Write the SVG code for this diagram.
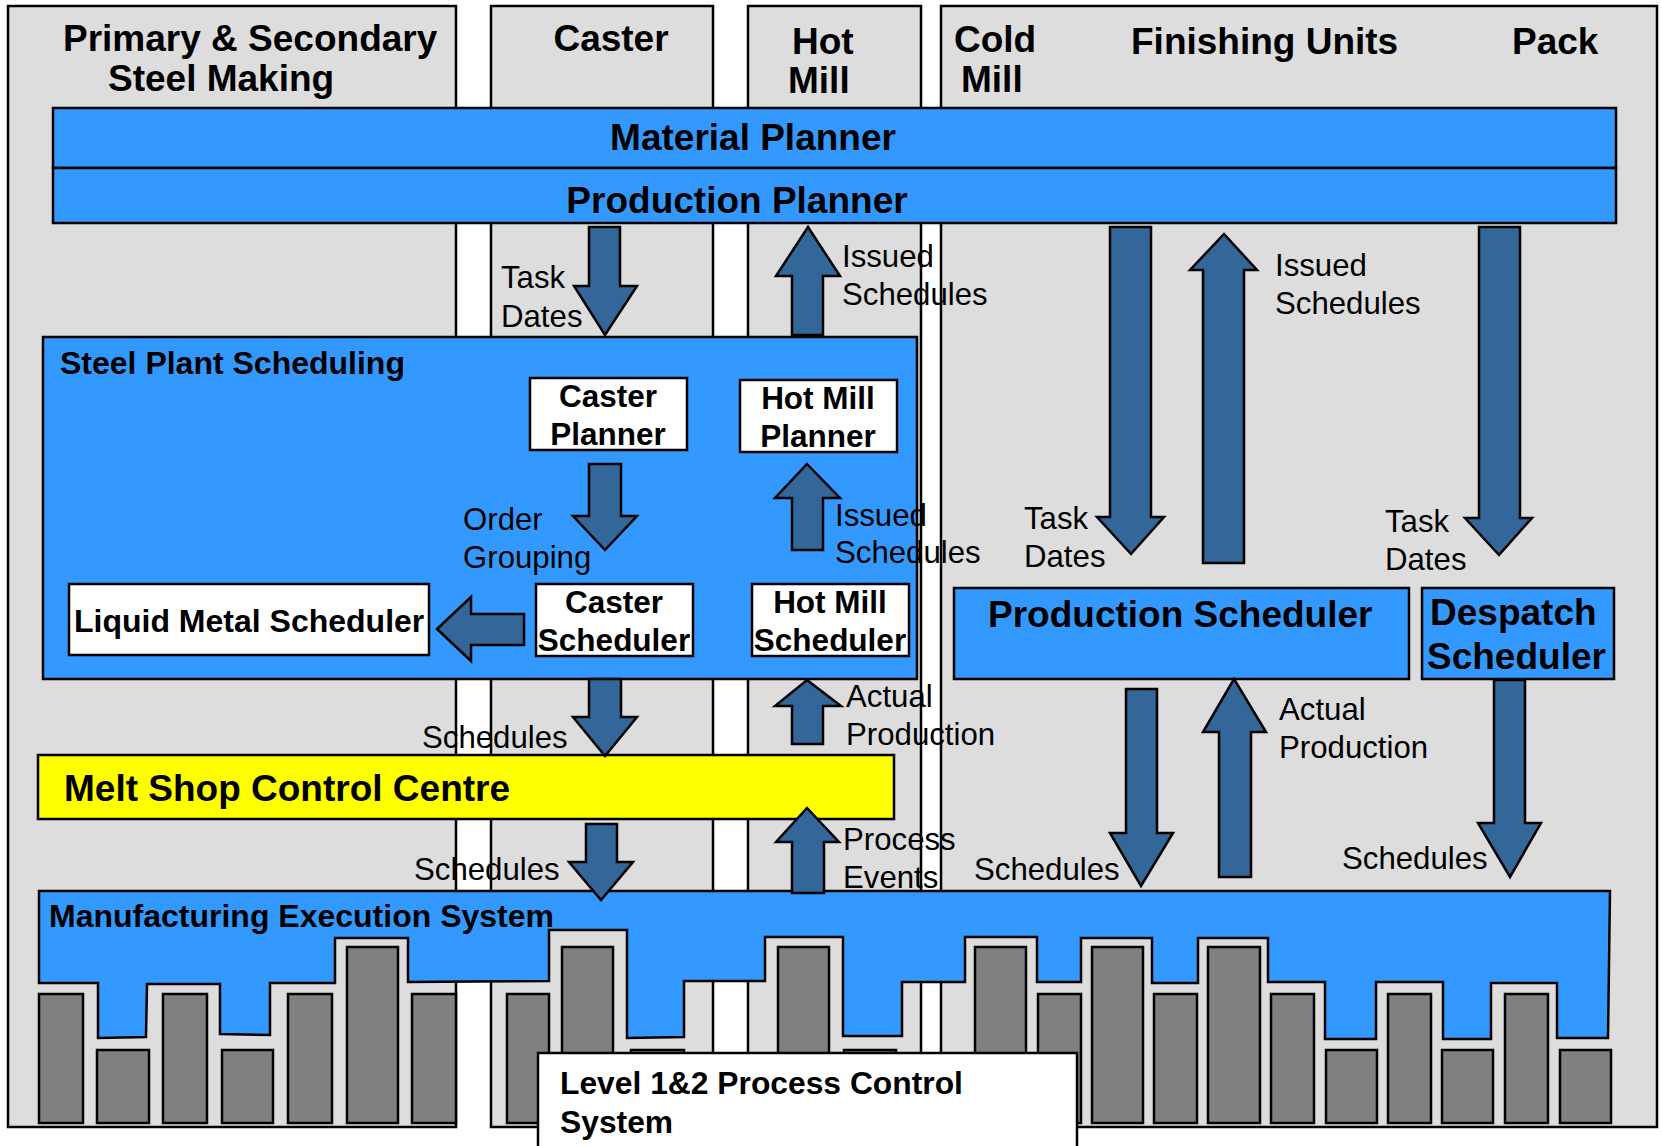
<svg xmlns="http://www.w3.org/2000/svg" width="1662" height="1146" viewBox="0 0 1662 1146">
<style>
.col{fill:#DDDDDD;stroke:#000;stroke-width:2.5}
.blue{fill:#3399FF;stroke:#000;stroke-width:2.5}
.white{fill:#FFFFFF;stroke:#000;stroke-width:2.5}
.yellow{fill:#FFFF00;stroke:#000;stroke-width:2.5}
.bar{fill:#808080;stroke:#000;stroke-width:2.5}
.arr{fill:#336699;stroke:#000;stroke-width:2.5;stroke-linejoin:miter}
.h{font-family:"Liberation Sans",Arial,sans-serif;font-weight:bold;font-size:37px;fill:#000}
.b{font-family:"Liberation Sans",Arial,sans-serif;font-weight:bold;font-size:31.5px;fill:#000}
.l{font-family:"Liberation Sans",Arial,sans-serif;font-size:31.2px;fill:#000}
.m{text-anchor:middle}
</style>
<rect width="1662" height="1146" fill="#FFFFFF"/>
<g id="columns">
<g id="col-primary"><rect class="col" x="8" y="6" width="448" height="1121"/>
<text class="h" x="63" y="51">Primary &amp; Secondary</text>
<text class="h" x="108" y="91">Steel Making</text></g>
<g id="col-caster"><rect class="col" x="491" y="6" width="222" height="1121"/>
<text class="h m" x="611" y="51">Caster</text></g>
<g id="col-hotmill"><rect class="col" x="748" y="6" width="173" height="1121"/>
<text class="h" x="792" y="54">Hot</text>
<text class="h" x="788" y="93">Mill</text></g>
<g id="col-finishing"><rect class="col" x="941" y="6" width="716" height="1121"/>
<text class="h" x="954" y="52">Cold</text>
<text class="h" x="961" y="92">Mill</text>
<text class="h" x="1131" y="54">Finishing Units</text>
<text class="h" x="1512" y="54">Pack</text></g>
</g>
<g id="material-planner"><rect class="blue" x="53" y="108" width="1563" height="60"/>
<text class="h m" x="753" y="150">Material Planner</text></g>
<g id="production-planner"><rect class="blue" x="53" y="168" width="1563" height="55"/>
<text class="h m" x="737" y="213">Production Planner</text></g>
<g id="steel-plant-scheduling"><rect class="blue" x="43" y="337" width="874" height="342"/>
<text class="b" x="60" y="374" style="font-size:32px">Steel Plant Scheduling</text></g>
<g id="caster-planner"><rect class="white" x="530" y="378" width="157" height="72"/>
<text class="b m" x="608" y="407">Caster</text><text class="b m" x="608" y="445">Planner</text></g>
<g id="hotmill-planner"><rect class="white" x="740" y="380" width="157" height="72"/>
<text class="b m" x="818" y="409">Hot Mill</text><text class="b m" x="818" y="447">Planner</text></g>
<g id="caster-scheduler"><rect class="white" x="536" y="584" width="157" height="72"/>
<text class="b m" x="614" y="613">Caster</text><text class="b m" x="614" y="651">Scheduler</text></g>
<g id="hotmill-scheduler"><rect class="white" x="752" y="584" width="157" height="72"/>
<text class="b m" x="830" y="613">Hot Mill</text><text class="b m" x="830" y="651">Scheduler</text></g>
<g id="liquid-metal-scheduler"><rect class="white" x="69" y="584" width="360" height="71"/>
<text class="b" x="74" y="632" style="font-size:32px">Liquid Metal Scheduler</text></g>
<g id="melt-shop"><rect class="yellow" x="38" y="755" width="856" height="64"/>
<text class="h" x="64" y="801">Melt Shop Control Centre</text></g>
<g id="production-scheduler"><rect class="blue" x="954" y="588" width="455" height="91"/>
<text class="h" x="988" y="627">Production Scheduler</text></g>
<g id="despatch-scheduler"><rect class="blue" x="1422" y="588" width="192" height="91"/>
<text class="h" x="1430" y="625">Despatch</text><text class="h" x="1427" y="669">Scheduler</text></g>
<g id="mes">
<polygon class="blue" points="39,891 1610,891 1608,1038 1557,1038 1557,983 1491,983 1491,1039 1443,1039 1443,982 1376,982 1376,1039 1325,1039 1325,982 1268,982 1268,938 1198,938 1198,983 1152,983 1152,938 1081,938 1081,982 1037,982 1037,937 965,937 965,982 902,982 902,1036 843,1036 843,937 765,937 765,981 684,981 684,1037 627,1038 627,930 549,930 549,981 408,982 408,938 335,938 335,983 270,983 270,1035 220,1034 220,984 147,984 146,1037 98,1038 98,983 39,983"/>
<text class="b" x="49" y="927" style="font-size:32px">Manufacturing Execution System</text>
</g>
<g id="level12-bars">
<rect class="bar" x="39" y="994" width="44" height="129"/>
<rect class="bar" x="97" y="1050" width="52" height="73"/>
<rect class="bar" x="163" y="994" width="44" height="129"/>
<rect class="bar" x="222" y="1050" width="51" height="73"/>
<rect class="bar" x="288" y="994" width="44" height="129"/>
<rect class="bar" x="347" y="947" width="51" height="176"/>
<rect class="bar" x="412" y="994" width="44" height="129"/>
<rect class="bar" x="507" y="994" width="42" height="129"/>
<rect class="bar" x="562" y="947" width="51" height="176"/>
<rect class="bar" x="631" y="1050" width="53" height="73"/>
<rect class="bar" x="778" y="947" width="51" height="176"/>
<rect class="bar" x="844" y="1050" width="52" height="73"/>
<rect class="bar" x="975" y="947" width="51" height="176"/>
<rect class="bar" x="1038" y="994" width="43" height="129"/>
<rect class="bar" x="1092" y="947" width="51" height="176"/>
<rect class="bar" x="1154" y="994" width="43" height="129"/>
<rect class="bar" x="1208" y="947" width="52" height="176"/>
<rect class="bar" x="1271" y="994" width="43" height="129"/>
<rect class="bar" x="1326" y="1050" width="51" height="73"/>
<rect class="bar" x="1388" y="994" width="43" height="129"/>
<rect class="bar" x="1442" y="1050" width="51" height="73"/>
<rect class="bar" x="1505" y="994" width="43" height="129"/>
<rect class="bar" x="1560" y="1050" width="51" height="73"/>
</g>
<g id="level12">
<rect class="white" x="538" y="1053" width="539" height="100"/>
<text class="b" x="560" y="1094" style="font-size:31.8px">Level 1&amp;2 Process Control</text>
<text class="b" x="560" y="1133" style="font-size:31.8px">System</text>
</g>
<g id="connectors">
<polygon class="arr" points="589,227 620,227 620,286 637,286 605,335 574,286 589,286"/>
<polygon class="arr" points="808,227 840,276 823,276 823,335 792,335 792,276 776,276"/>
<polygon class="arr" points="589,464 621,464 621,516 637,516 605,550 573,516 589,516"/>
<polygon class="arr" points="807,464 840,498 823,498 823,550 792,550 792,498 775,498"/>
<polygon class="arr" points="437,629 471,597 471,614 524,614 524,645 471,645 471,661"/>
<polygon class="arr" points="589,679 621,679 621,717 637,717 605,756 573,717 589,717"/>
<polygon class="arr" points="807,680 841,706 823,706 823,744 792,744 792,706 775,706"/>
<polygon class="arr" points="586,824 617,824 617,862 633,862 601,900 569,862 586,862"/>
<polygon class="arr" points="807,808 839,842 824,842 824,893 792,893 792,842 776,842"/>
<polygon class="arr" points="1110,227 1151,227 1151,517 1164,517 1131,554 1097,517 1110,517"/>
<polygon class="arr" points="1224,234 1257,270 1244,270 1244,563 1203,563 1203,270 1190,270"/>
<polygon class="arr" points="1479,227 1520,227 1520,518 1532,518 1499,555 1465,518 1479,518"/>
<polygon class="arr" points="1126,689 1157,689 1157,833 1173,833 1141,886 1110,833 1126,833"/>
<polygon class="arr" points="1234,679 1266,732 1251,732 1251,877 1219,877 1219,732 1203,732"/>
<polygon class="arr" points="1494,680 1525,680 1525,823 1541,823 1510,877 1478,823 1494,823"/>
<text class="l" x="501" y="288">Task</text><text class="l" x="501" y="327">Dates</text>
<text class="l" x="842" y="267">Issued</text><text class="l" x="842" y="305">Schedules</text>
<text class="l" x="1275" y="276">Issued</text><text class="l" x="1275" y="314">Schedules</text>
<text class="l" x="1024" y="529">Task</text><text class="l" x="1024" y="567">Dates</text>
<text class="l" x="1385" y="532">Task</text><text class="l" x="1385" y="570">Dates</text>
<text class="l" x="463" y="530">Order</text><text class="l" x="463" y="568">Grouping</text>
<text class="l" x="835" y="526">Issued</text><text class="l" x="835" y="563">Schedules</text>
<text class="l" x="422" y="748">Schedules</text>
<text class="l" x="846" y="707">Actual</text><text class="l" x="846" y="745">Production</text>
<text class="l" x="414" y="880">Schedules</text>
<text class="l" x="843" y="850">Process</text><text class="l" x="843" y="888">Events</text>
<text class="l" x="974" y="880">Schedules</text>
<text class="l" x="1279" y="720">Actual</text><text class="l" x="1279" y="758">Production</text>
<text class="l" x="1342" y="869">Schedules</text>
</g>
</svg>
